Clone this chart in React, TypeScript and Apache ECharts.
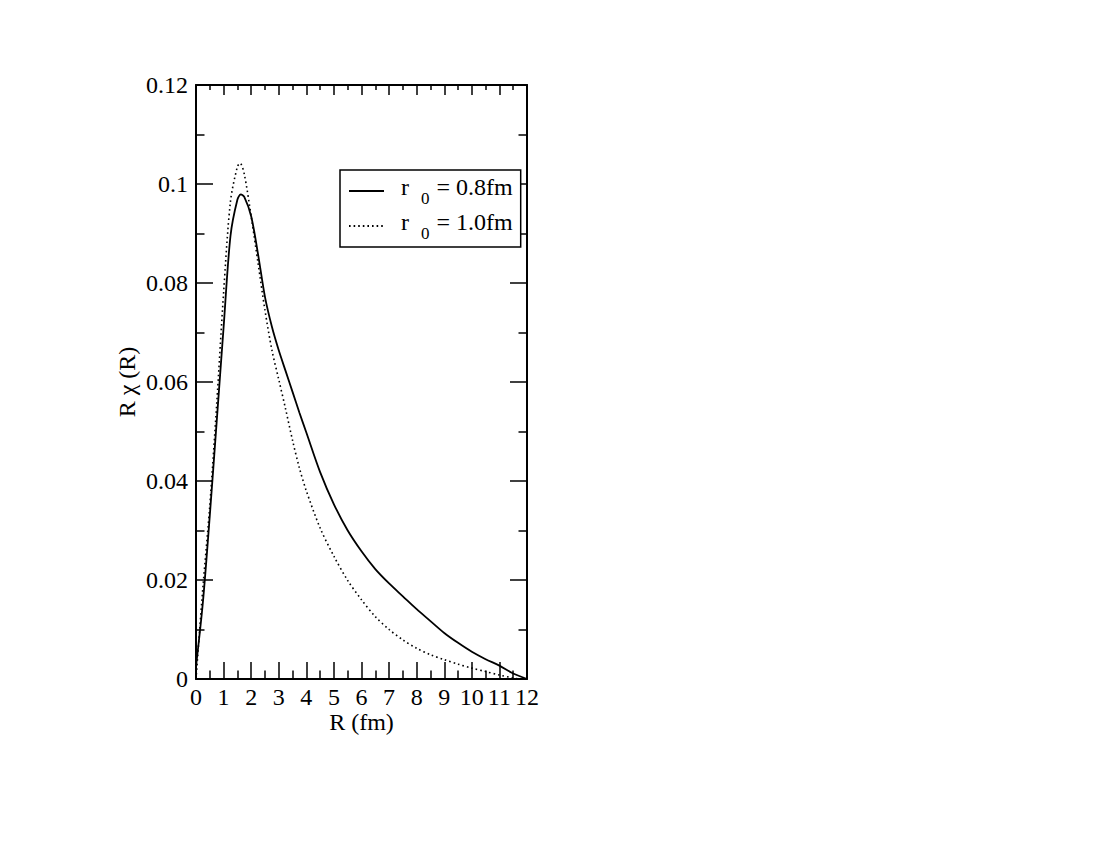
import React, { useEffect, useRef } from "react";
import * as echarts from "echarts";

const FONT = '"Liberation Serif", "Times New Roman", Times, serif';

// r0 = 0.8 fm (solid)
const solidR = [0, 0.25, 0.5, 0.75, 1.0, 1.25, 1.5, 1.625, 1.75, 2.0, 2.25, 2.5, 2.75, 3.0, 3.25, 3.5, 3.75, 4.0, 4.5, 5.0, 5.5, 6.0, 6.5, 7.0, 7.5, 8.0, 8.5, 9.0, 9.5, 10.0, 10.5, 11.0, 11.5, 12];
const solidV = [0.0025, 0.0155, 0.033, 0.052, 0.071, 0.0895, 0.0968, 0.0979, 0.0974, 0.0935, 0.0858, 0.0772, 0.0712, 0.0664, 0.0622, 0.0580, 0.0538, 0.0498, 0.0418, 0.0353, 0.0300, 0.0258, 0.0222, 0.0193, 0.0167, 0.0141, 0.0117, 0.0093, 0.0073, 0.0055, 0.0040, 0.0027, 0.0011, 0];

// r0 = 1.0 fm (dotted)
const dottedR = [0, 0.25, 0.5, 0.75, 1.0, 1.25, 1.5, 1.6, 1.75, 2.0, 2.25, 2.5, 2.75, 3.0, 3.25, 3.5, 3.75, 4.0, 4.5, 5.0, 5.5, 6.0, 6.5, 7.0, 7.5, 8.0, 8.5, 9.0, 9.5, 10.0, 10.5, 11.0, 11.5, 11.7];
const dottedV = [0, 0.0185, 0.035, 0.0555, 0.078, 0.0965, 0.1035, 0.1042, 0.1020, 0.0935, 0.0840, 0.0745, 0.0665, 0.0605, 0.0545, 0.0482, 0.0426, 0.0380, 0.0305, 0.0248, 0.0199, 0.0160, 0.0126, 0.0100, 0.0079, 0.0062, 0.0049, 0.0039, 0.0030, 0.0022, 0.0015, 0.0008, 0.0002, 0];

const seriesNames = ["r0 = 0.8fm", "r0 = 1.0fm"];
const legendValues = ["0.8fm", "1.0fm"];

const X_MIN = 0, X_MAX = 12, X_STEP = 1;
const Y_MIN = 0, Y_MAX = 0.12, Y_STEP = 0.02;

const zip = (xs: number[], ys: number[]) => xs.map((x, i) => [x, ys[i]]);

export default function App() {
  const ref = useRef<HTMLDivElement>(null);
  useEffect(() => {
    if (!ref.current) return;
    const chart = echarts.init(ref.current, undefined, { renderer: "svg" });
    const black = "#000";
    const axisLine = { show: true, onZero: false, lineStyle: { color: black, width: 2 } };
    const tickStyle = { color: black, width: 1.5 };
    const FS = 24;
    const option: any = {
      animation: false,
      backgroundColor: "#fff",
      textStyle: { fontFamily: FONT, color: black },
      grid: { left: 196, top: 85, width: 331, height: 594, containLabel: false, outerBoundsMode: "none" },
      xAxis: [
        {
          type: "value", min: X_MIN, max: X_MAX, interval: X_STEP, position: "bottom",
          name: "R (fm)", nameLocation: "middle", nameGap: 31, nameMoveOverlap: false,
          nameTextStyle: { fontSize: FS, fontFamily: FONT, color: black },
          axisLine,
          axisTick: { show: true, inside: true, length: 17, lineStyle: tickStyle },
          minorTick: { show: true, splitNumber: 2, length: 8.5, lineStyle: tickStyle },
          axisLabel: { fontSize: FS, fontFamily: FONT, color: black, margin: 6 },
          splitLine: { show: false }, minorSplitLine: { show: false },
        },
        {
          type: "value", min: X_MIN, max: X_MAX, interval: X_STEP, position: "top",
          axisLine,
          axisTick: { show: true, inside: true, length: 10, lineStyle: tickStyle },
          minorTick: { show: true, splitNumber: 2, length: 5, lineStyle: tickStyle },
          axisLabel: { show: false },
          splitLine: { show: false }, minorSplitLine: { show: false },
        },
      ],
      yAxis: [
        {
          type: "value", min: Y_MIN, max: Y_MAX, interval: Y_STEP, position: "left",
          name: "R \u03C7 (R)", nameLocation: "middle", nameGap: 57, nameRotate: 90, nameMoveOverlap: false,
          nameTextStyle: { fontSize: FS, fontFamily: FONT, color: black },
          axisLine,
          axisTick: { show: true, inside: true, length: 17, lineStyle: tickStyle },
          minorTick: { show: true, splitNumber: 2, length: 8.5, lineStyle: tickStyle },
          axisLabel: { fontSize: FS, fontFamily: FONT, color: black, margin: 8 },
          splitLine: { show: false }, minorSplitLine: { show: false },
        },
        {
          type: "value", min: Y_MIN, max: Y_MAX, interval: Y_STEP, position: "right",
          axisLine,
          axisTick: { show: true, inside: true, length: 17, lineStyle: tickStyle },
          minorTick: { show: true, splitNumber: 2, length: 8.5, lineStyle: tickStyle },
          axisLabel: { show: false },
          splitLine: { show: false }, minorSplitLine: { show: false },
        },
      ],
      legend: {
        left: 340, top: 170, orient: "vertical",
        padding: [5, 8, 5, 8], itemGap: 3, itemWidth: 35, itemHeight: 14,
        borderColor: black, borderWidth: 1.5, borderRadius: 0, backgroundColor: "#fff",
        selectedMode: false,
        itemStyle: { opacity: 0 },
        data: seriesNames,
        formatter: (name: string) => {
          const i = seriesNames.indexOf(name);
          return "{r|r}{s|0}{t|= " + legendValues[i] + "}";
        },
        textStyle: {
          fontFamily: FONT, fontSize: FS, color: black,
          rich: {
            r: { fontFamily: FONT, fontSize: FS, color: black, lineHeight: 24, padding: [0, 0, 8, 12] },
            s: { fontFamily: FONT, fontSize: 17, color: black, lineHeight: 17, padding: [15, 0, 0, 12] },
            t: { fontFamily: FONT, fontSize: FS, color: black, lineHeight: 24, padding: [0, 0, 8, 7] },
          },
        },
      },
      series: [
        {
          type: "line", name: seriesNames[0], xAxisIndex: 0, yAxisIndex: 0,
          data: zip(solidR, solidV), symbol: "none", showSymbol: false, smooth: 0.3,
          lineStyle: { color: black, width: 1.8, type: "solid" },
          itemStyle: { color: black },
        },
        {
          type: "line", name: seriesNames[1], xAxisIndex: 0, yAxisIndex: 0,
          data: zip(dottedR, dottedV), symbol: "none", showSymbol: false, smooth: 0.3,
          lineStyle: { color: black, width: 1.6, type: [1.6, 3] },
          itemStyle: { color: black },
        },
      ],
    };
    chart.setOption(option);
    return () => chart.dispose();
  }, []);
  return <div ref={ref} style={{ position: "absolute", left: 0, top: 0, width: 1100, height: 850 }} />;
}
